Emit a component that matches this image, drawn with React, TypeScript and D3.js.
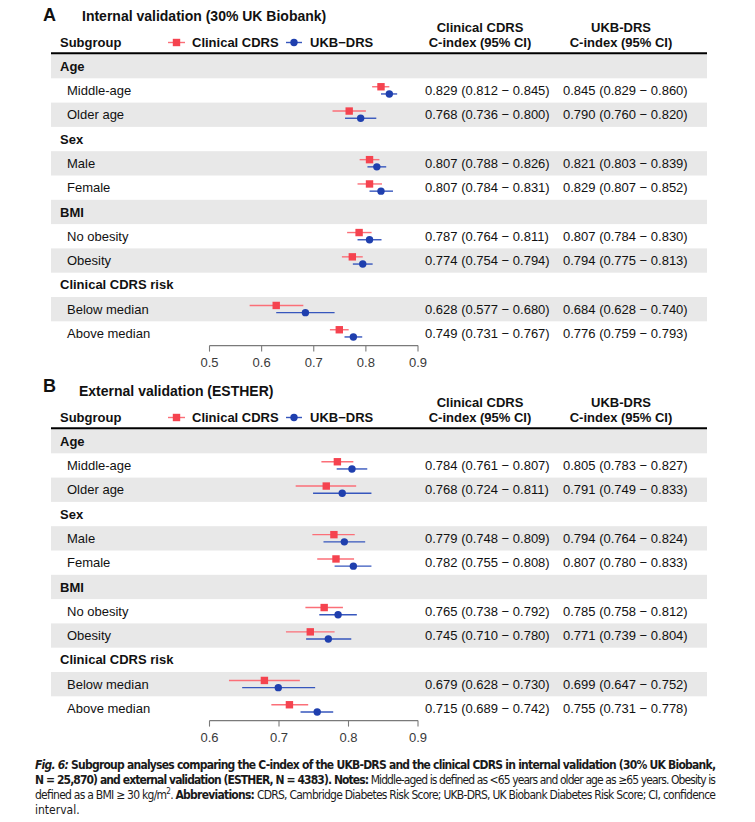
import React from "react";
import { scaleLinear, scaleBand, format } from "d3";

// row structure shared by both panels
const groupNames = ["Age", "Sex", "BMI", "Clinical CDRS risk"];
const subgroupNames = [
  ["Middle-age", "Older age"],
  ["Male", "Female"],
  ["No obesity", "Obesity"],
  ["Below median", "Above median"],
];

// A: internal validation (30% UK Biobank)
const intClinEst = [0.829, 0.768, 0.807, 0.807, 0.787, 0.774, 0.628, 0.749];
const intClinLo = [0.812, 0.736, 0.788, 0.784, 0.764, 0.754, 0.577, 0.731];
const intClinHi = [0.845, 0.8, 0.826, 0.831, 0.811, 0.794, 0.68, 0.767];
const intUkbEst = [0.845, 0.79, 0.821, 0.829, 0.807, 0.794, 0.684, 0.776];
const intUkbLo = [0.829, 0.76, 0.803, 0.807, 0.784, 0.775, 0.628, 0.759];
const intUkbHi = [0.86, 0.82, 0.839, 0.852, 0.83, 0.813, 0.74, 0.793];
const intTicks = [0.5, 0.6, 0.7, 0.8, 0.9];

// B: external validation (ESTHER)
const extClinEst = [0.784, 0.768, 0.779, 0.782, 0.765, 0.745, 0.679, 0.715];
const extClinLo = [0.761, 0.724, 0.748, 0.755, 0.738, 0.71, 0.628, 0.689];
const extClinHi = [0.807, 0.811, 0.809, 0.808, 0.792, 0.78, 0.73, 0.742];
const extUkbEst = [0.805, 0.791, 0.794, 0.807, 0.785, 0.771, 0.699, 0.755];
const extUkbLo = [0.783, 0.749, 0.764, 0.78, 0.758, 0.739, 0.647, 0.731];
const extUkbHi = [0.827, 0.833, 0.824, 0.833, 0.812, 0.804, 0.752, 0.778];
const extTicks = [0.6, 0.7, 0.8, 0.9];

const RED = "#f5434f";
const RED_LINE = "#fb6f78";
const BLUE = "#1f3fae";
const BLUE_LINE = "#3656bd";
const FONT = "'Liberation Sans', Arial, Helvetica, sans-serif";
const f3 = format(".3f");

type PanelProps = {
  top: number;
  letter: string;
  letterDy: number;
  title: string;
  titleX: number;
  clinEst: number[];
  clinLo: number[];
  clinHi: number[];
  ukbEst: number[];
  ukbLo: number[];
  ukbHi: number[];
  ticks: number[];
};

const Panel = (p: PanelProps) => {
  const rowTop = p.top + 54;
  const rowH = 24.3;
  const nRows = groupNames.length * 3;
  const y = scaleBand<number>()
    .domain([...Array(nRows).keys()])
    .range([rowTop, rowTop + rowH * nRows]);
  const x = scaleLinear()
    .domain([p.ticks[0], p.ticks[p.ticks.length - 1]])
    .range([209.5, 418]);
  const axisY = rowTop + rowH * nRows;

  const rows: JSX.Element[] = [];
  groupNames.forEach((g, gi) => {
    const r0 = gi * 3;
    rows.push(
      <text key={"g" + gi} x={60} y={y(r0)! + rowH / 2 + 4.6} fontWeight="bold" fontSize={13}>
        {g}
      </text>
    );
    subgroupNames[gi].forEach((s, si) => {
      const r = r0 + 1 + si;
      const i = gi * 2 + si;
      const cy = y(r)! + rowH / 2;
      rows.push(
        <g key={"s" + i}>
          <text x={67} y={cy + 4.6} fontSize={13}>
            {s}
          </text>
          <line x1={x(p.clinLo[i])} x2={x(p.clinHi[i])} y1={cy - 3.7} y2={cy - 3.7} stroke={RED_LINE} strokeWidth={1.4} />
          <rect x={x(p.clinEst[i]) - 3.7} y={cy - 7.4} width={7.4} height={7.4} fill={RED} />
          <line x1={x(p.ukbLo[i])} x2={x(p.ukbHi[i])} y1={cy + 3.5} y2={cy + 3.5} stroke={BLUE_LINE} strokeWidth={1.4} />
          <circle cx={x(p.ukbEst[i])} cy={cy + 3.5} r={3.7} fill={BLUE} />
          <text x={425} y={cy + 4.6} fontSize={13}>
            {`${f3(p.clinEst[i])} (${f3(p.clinLo[i])} \u2212 ${f3(p.clinHi[i])})`}
          </text>
          <text x={563} y={cy + 4.6} fontSize={13}>
            {`${f3(p.ukbEst[i])} (${f3(p.ukbLo[i])} \u2212 ${f3(p.ukbHi[i])})`}
          </text>
        </g>
      );
    });
  });

  return (
    <g fontFamily={FONT} fill="#111">
      {[...Array(nRows).keys()]
        .filter((r) => r % 2 === 0)
        .map((r) => (
          <rect key={"band" + r} x={51} y={y(r)!} width={656} height={rowH} fill="#e8e8e8" />
        ))}
      <text x={43} y={p.top + 21 + p.letterDy} fontSize={18} fontWeight="bold">
        {p.letter}
      </text>
      <text x={p.titleX} y={p.top + 21} fontSize={14} fontWeight="bold">
        {p.title}
      </text>
      <text x={60} y={p.top + 47} fontSize={13} fontWeight="bold">
        Subgroup
      </text>
      <line x1={168} x2={185} y1={p.top + 42.5} y2={p.top + 42.5} stroke={RED_LINE} strokeWidth={1.4} />
      <rect x={172.8} y={p.top + 38.8} width={7.4} height={7.4} fill={RED} />
      <text x={192} y={p.top + 47} fontSize={13} fontWeight="bold">
        Clinical CDRS
      </text>
      <line x1={286} x2={302} y1={p.top + 42.5} y2={p.top + 42.5} stroke={BLUE_LINE} strokeWidth={1.4} />
      <circle cx={294} cy={p.top + 42.5} r={3.7} fill={BLUE} />
      <text x={310} y={p.top + 47} fontSize={13} fontWeight="bold">
        UKB{"\u2212"}DRS
      </text>
      <g fontSize={13} fontWeight="bold" textAnchor="middle">
        <text x={480} y={p.top + 32}>Clinical CDRS</text>
        <text x={480} y={p.top + 47}>C-index (95% CI)</text>
        <text x={621} y={p.top + 32}>UKB-DRS</text>
        <text x={621} y={p.top + 47}>C-index (95% CI)</text>
      </g>
      <line x1={51} x2={707} y1={p.top + 53.3} y2={p.top + 53.3} stroke="#000" strokeWidth={2} />
      {rows}
      <line x1={x.range()[0]} x2={x.range()[1]} y1={axisY} y2={axisY} stroke="#7a7a7a" strokeWidth={1.1} />
      {p.ticks.map((t) => (
        <g key={"t" + t}>
          <line x1={x(t)} x2={x(t)} y1={axisY} y2={axisY + 6} stroke="#7a7a7a" strokeWidth={1.1} />
          <text x={x(t)} y={axisY + 21} textAnchor="middle" fontSize={13} fill="#3a3a3a">
            {format(".1f")(t)}
          </text>
        </g>
      ))}
    </g>
  );
};

const CAP_FONT = "'Liberation Sans Narrow', 'DejaVu Sans Condensed', Lato, sans-serif";

const App = () => {
  return (
    <svg
      width={755}
      height={822}
      style={{ position: "absolute", left: 0, top: 0, background: "#fff" }}
    >
      <rect width={755} height={822} fill="#fff" />
      <Panel
        top={0}
        letter="A"
        letterDy={0}
        title="Internal validation (30% UK Biobank)"
        titleX={82}
        clinEst={intClinEst}
        clinLo={intClinLo}
        clinHi={intClinHi}
        ukbEst={intUkbEst}
        ukbLo={intUkbLo}
        ukbHi={intUkbHi}
        ticks={intTicks}
      />
      <Panel
        top={375}
        letter="B"
        letterDy={-4}
        title="External validation (ESTHER)"
        titleX={79}
        clinEst={extClinEst}
        clinLo={extClinLo}
        clinHi={extClinHi}
        ukbEst={extUkbEst}
        ukbLo={extUkbLo}
        ukbHi={extUkbHi}
        ticks={extTicks}
      />
      <g fontFamily={CAP_FONT} fontSize={12} fill="#1a1a1a">
        <text x={35} y={769} textLength={681} lengthAdjust="spacing" fontWeight="bold">
          <tspan fontStyle="italic">Fig. 6:</tspan> Subgroup analyses comparing the C-index of the UKB-DRS and the clinical CDRS in internal validation (30% UK Biobank,
        </text>
        <text x={35} y={784} textLength={681} lengthAdjust="spacing">
          <tspan fontWeight="bold">N = 25,870) and external validation (ESTHER, N = 4383). Notes:</tspan> Middle-aged is defined as &lt;65 years and older age as ≥65 years. Obesity is
        </text>
        <text x={35} y={799} textLength={681} lengthAdjust="spacing">
          defined as a BMI ≥ 30 kg/m
          <tspan fontSize={8} dy={-5}>2</tspan>
          <tspan dy={5}>. </tspan>
          <tspan fontWeight="bold">Abbreviations:</tspan> CDRS, Cambridge Diabetes Risk Score; UKB-DRS, UK Biobank Diabetes Risk Score; CI, confidence
        </text>
        <text x={35} y={814}>interval.</text>
      </g>
    </svg>
  );
};

export default App;
